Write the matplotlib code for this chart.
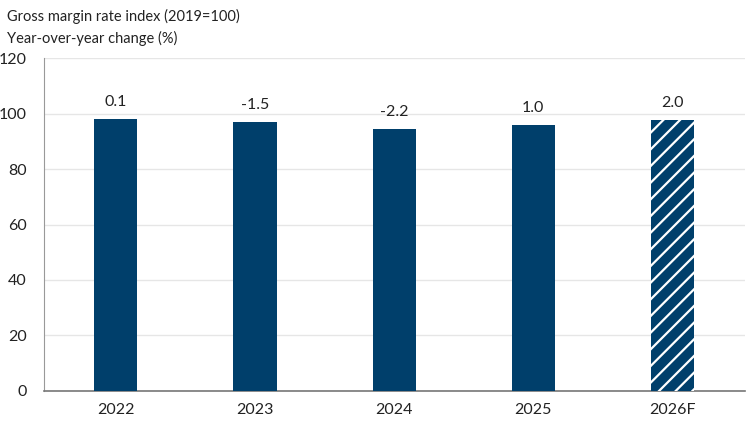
import matplotlib
matplotlib.use('Agg')
import matplotlib.pyplot as plt

# данные
years = ['2022', '2023', '2024', '2025', '2026F']
index_values = [97.9, 96.8, 94.5, 95.7, 97.6]
yoy_labels = ['0.1', '-1.5', '-2.2', '1.0', '2.0']
forecast = [False, False, False, False, True]

bar_color = '#003f6b'
text_color = '#222222'

plt.rcParams['font.family'] = ['Lato', 'DejaVu Sans']
plt.rcParams['hatch.color'] = 'white'
plt.rcParams['hatch.linewidth'] = 1.6

fig = plt.figure(figsize=(7.5, 4.22), dpi=100)
ax = fig.add_axes([0.058, 0.0735, 0.935, 0.789])

x = range(len(years))
bars = ax.bar(x, index_values, width=0.31, color=bar_color, zorder=3)
for bar, is_fc in zip(bars, forecast):
    if is_fc:
        bar.set_hatch('//')
        bar.set_edgecolor('white')
        bar.set_linewidth(0)

# подписи значений
for xi, val, lbl in zip(x, index_values, yoy_labels):
    ax.text(xi, val + 3.6, lbl, ha='center', va='bottom', fontsize=11.5, color=text_color)

ax.set_xlim(-0.52, 4.52)
ax.set_ylim(0, 120)
ax.set_yticks(range(0, 121, 20))
ax.set_xticks(list(x))
ax.set_xticklabels(years)
ax.tick_params(axis='both', length=0, labelsize=11.5, colors=text_color)
ax.tick_params(axis='x', pad=9)
ax.tick_params(axis='y', pad=12)

# сетка, оси
ax.grid(axis='y', color='#e6e6e6', linewidth=1, zorder=0)
for s in ['top', 'right']:
    ax.spines[s].set_visible(False)
ax.spines['left'].set_color('#999999')
ax.spines['bottom'].set_color('#777777')
ax.spines['bottom'].set_linewidth(1.2)

fig.text(0.009, 0.96, 'Gross margin rate index (2019=100)', fontsize=10.5, color=text_color, va='center')
fig.text(0.009, 0.91, 'Year-over-year change (%)', fontsize=10.5, color=text_color, va='center')

fig.savefig('out.png', dpi=100)
